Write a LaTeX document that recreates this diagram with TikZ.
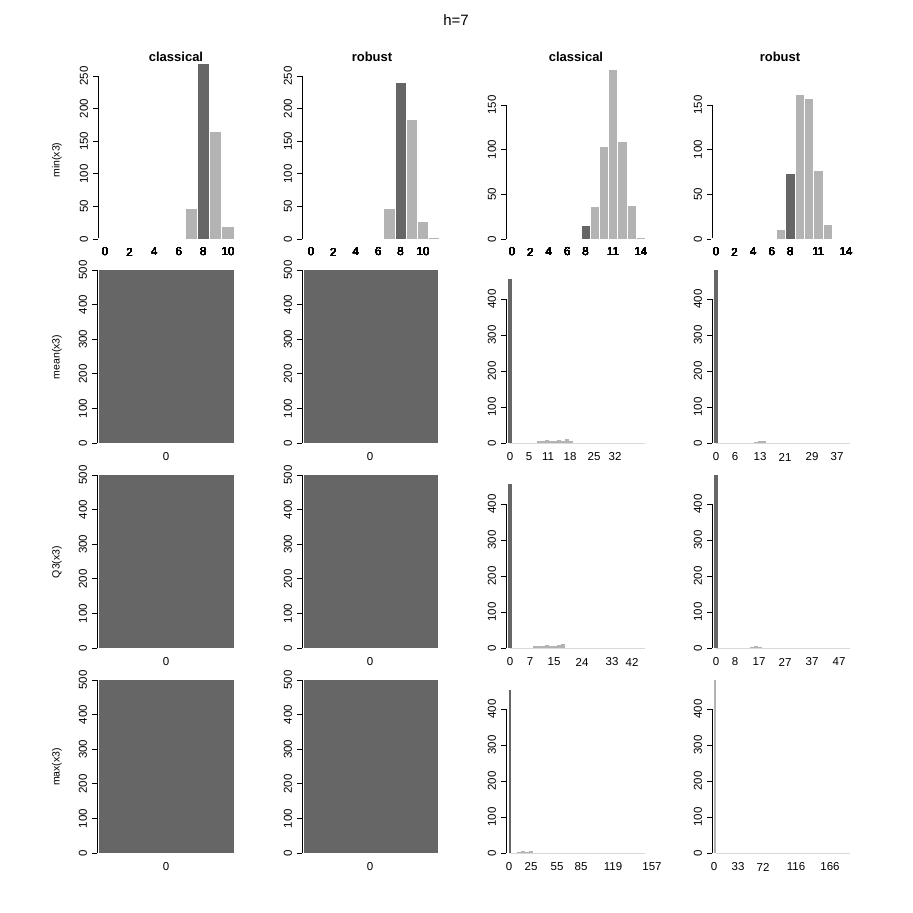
\documentclass[tikz,border=0pt]{standalone}
\usepackage{fontspec}
\setmainfont{Liberation Sans}
\begin{document}
\begin{tikzpicture}[x=1pt,y=-1pt,
  lab/.style={font=\fontsize{11.5}{12}\selectfont,inner sep=0pt},
  ttl/.style={font=\fontsize{13}{14}\selectfont\bfseries,inner sep=0pt},
  ax/.style={line width=0.9pt,black}]
\useasboundingbox[fill=white] (0,0) rectangle (913,913);
\definecolor{dk}{HTML}{666666}
\definecolor{lt}{HTML}{B3B3B3}
% yaxis: #1 x, #2 base y, #3 scale, #4 max, #5 list
\newcommand{\myyaxis}[5]{%
  \draw[ax] (#1,#2) -- (#1,#2-#3*#4);
  \foreach \v in {#5}{\draw[ax] (#1,#2-#3*\v) -- (#1-5,#2-#3*\v);
    \node[lab,rotate=90] at (#1-14,#2-#3*\v) {\v};}}
% bar: #1 colour, #2 centre x, #3 width, #4 base, #5 scale, #6 value
\newcommand{\mybar}[6]{%
  \fill[#1,draw=white,line width=0.8pt] (#2-#3/2,#4) rectangle (#2+#3/2,#4-#5*#6);}
% titles
\node[font=\fontsize{15}{16}\selectfont,inner sep=0pt] (h) at (456,20) {h=7};
\node[ttl] (t1) at (176,57) {classical};
\node[ttl] (t2) at (372,57) {robust};
\node[ttl] (t3) at (576,57) {classical};
\node[ttl] (t4) at (780,57) {robust};
\foreach \t/\y in {min(x3)/160,mean(x3)/357,Q3(x3)/562,max(x3)/767}
  \node[lab,rotate=90,font=\fontsize{10.5}{11}\selectfont] at (57,\y) {\t};
% ---- row 1 ----
\myyaxis{98}{239}{0.652}{250}{0,50,100,150,200,250}
\foreach \k/\v in {0/0.4,1/0.4,2/0.4,3/0.4,4/0.4,5/0.4,6/0.4,7/47,9/165,10/19} \mybar{lt}{105+12.3*\k}{12.3}{239}{0.652}{\v}
\mybar{dk}{105+12.3*8}{12.3}{239}{0.652}{270}
\foreach \k in {0,2,4,6,8,10} \node[lab] at (105+12.3*\k,252) {\k};
\myyaxis{302}{239}{0.652}{250}{0,50,100,150,200,250}
\foreach \k/\v in {0/0.4,1/0.4,2/0.4,3/0.4,4/0.4,5/0.4,6/1.5,7/47,9/183,10/27,11/2} \mybar{lt}{311+11.2*\k}{11.2}{239}{0.652}{\v}
\mybar{dk}{311+11.2*8}{11.2}{239}{0.652}{240}
\foreach \k in {0,2,4,6,8,10} \node[lab] at (311+11.2*\k,252) {\k};
\myyaxis{506}{239}{0.893}{150}{0,50,100,150}
\foreach \k/\v in {0/0.4,1/0.4,2/0.4,3/0.4,4/0.4,5/0.4,6/0.4,7/1,9/37,10/104,11/190,12/109,13/38,14/2} \mybar{lt}{512+9.2*\k}{9.2}{239}{0.893}{\v}
\mybar{dk}{512+9.2*8}{9.2}{239}{0.893}{15}
\foreach \k in {0,2,4,6,8,11,14} \node[lab] at (512+9.2*\k,252) {\k};
\myyaxis{712}{239}{0.893}{150}{0,50,100,150}
\foreach \k/\v in {0/0.4,1/0.4,2/0.4,3/0.4,4/0.4,5/0.4,6/1,7/11,9/162,10/158,11/77,12/16,13/1,14/1} \mybar{lt}{716+9.3*\k}{9.3}{239}{0.893}{\v}
\mybar{dk}{716+9.3*8}{9.3}{239}{0.893}{73}
\foreach \k in {0,2,4,6,8,11,14} \node[lab] at (716+9.3*\k,252) {\k};
% ---- rows 2-4 left ----
\foreach \b in {443,648,853}{
  \myyaxis{97}{\b}{0.346}{500}{0,100,200,300,400,500}
  \fill[dk] (99,\b) rectangle (234,\b-173);
  \node[lab] at (166,\b+14) {0};
  \myyaxis{302}{\b}{0.346}{500}{0,100,200,300,400,500}
  \fill[dk] (304,\b) rectangle (438,\b-173);
  \node[lab] at (370,\b+14) {0};
  \myyaxis{506}{\b}{0.36}{400}{0,100,200,300,400}
  \myyaxis{712}{\b}{0.36}{400}{0,100,200,300,400}
  \draw[lt!50,line width=0.6pt] (510,\b) -- (645,\b);
  \draw[lt!50,line width=0.6pt] (716,\b) -- (850,\b);
}
% row2 right
\fill[dk] (508,443) rectangle (511.5,279);
\fill[dk] (714,443) rectangle (717.5,270);
\foreach \x/\v in {539/3,543/4,547/5,551/4,555/3,559/5,563/4,567/6,571/3} \fill[lt] (\x-1.8,443) rectangle (\x+1.8,443-\v*0.6);
\foreach \x/\v in {756/2,760/4,764/3} \fill[lt] (\x-1.8,443) rectangle (\x+1.8,443-\v*0.6);
\foreach \x/\l in {510/0,529/5,548/11,570/18,594/25,615/32} \node[lab] at (\x,457) {\l};
\foreach \x/\l in {716/0,735/6,760/13,785/21,812/29,837/37} \node[lab] at (\x,457) {\l};
% row3 right
\fill[dk] (508,648) rectangle (511.5,484);
\fill[dk] (714,648) rectangle (717.5,475);
\foreach \x/\v in {535/3,539/4,543/4,547/5,551/4,555/3,559/5,563/6} \fill[lt] (\x-1.8,648) rectangle (\x+1.8,648-\v*0.6);
\foreach \x/\v in {752/2,756/3,760/2} \fill[lt] (\x-1.8,648) rectangle (\x+1.8,648-\v*0.6);
\foreach \x/\l in {510/0,530/7,554/15,582/24,612/33,632/42} \node[lab] at (\x,662) {\l};
\foreach \x/\l in {716/0,735/8,759/17,785/27,812/37,839/47} \node[lab] at (\x,662) {\l};
% row4 right
\fill[dk] (508.5,853) rectangle (510.5,690);
\fill[lt] (713.5,853) rectangle (716,680);
\foreach \x/\v in {519/2,523/3,527/2,531/3} \fill[lt] (\x-1.8,853) rectangle (\x+1.8,853-\v*0.6);
\foreach \x/\l in {509/0,531/25,557/55,581/85,613/119,652/157} \node[lab] at (\x,867) {\l};
\foreach \x/\l in {714/0,738/33,763/72,796/116,830/166} \node[lab] at (\x,867) {\l};
\end{tikzpicture}
\end{document}
